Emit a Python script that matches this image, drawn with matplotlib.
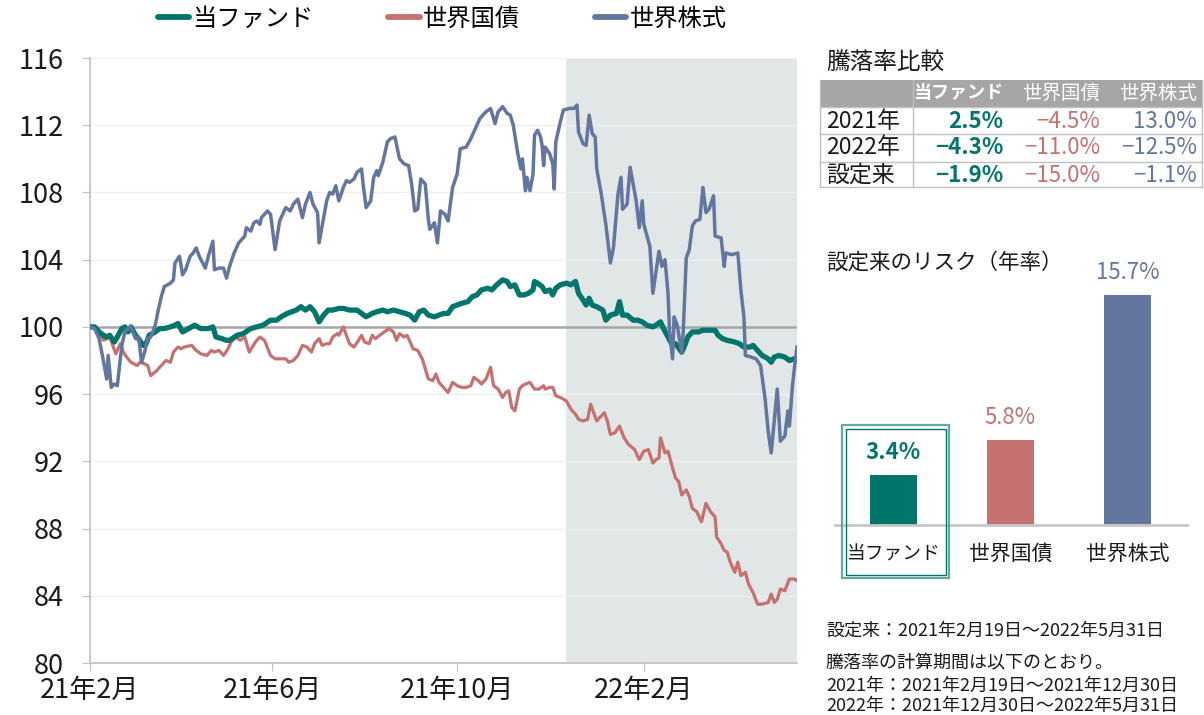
import numpy as np
import pandas as pd
import matplotlib
matplotlib.use("Agg")
import matplotlib.pyplot as plt
from matplotlib.lines import Line2D
from matplotlib.patches import Rectangle

plt.rcParams['font.family'] = ['Noto Sans CJK JP', 'DejaVu Sans']

START = pd.Timestamp("2021-02-19")
END = pd.Timestamp("2022-05-31")
SHADE_FROM = pd.Timestamp("2021-12-30")

# (days since START, index value with START = 100)
fund = [(0, 100.0), (3, 100.0), (6, 99.7), (9, 99.5), (11, 99.4), (13, 99.5), (16, 99.1), (18, 99.4), (21, 99.9),
        (23, 100.0), (25, 99.7), (27, 100.0), (30, 99.5), (32, 99.3), (35, 98.9), (37, 99.0), (39, 99.5), (43, 99.7),
        (46, 99.9), (49, 99.9), (53, 100.0), (56, 100.1), (58, 100.2), (61, 99.7), (65, 99.9), (69, 100.1), (73, 99.9),
        (78, 99.9), (81, 100.0), (83, 99.4), (87, 99.3), (90, 99.2),
        (92, 99.2), (97, 99.5), (101, 99.6), (106, 99.9), (110, 100.0), (114, 100.1), (119, 100.4), (123, 100.4),
        (126, 100.6), (130, 100.8), (133, 100.9), (136, 101.0), (139, 101.2), (142, 101.0), (145, 101.2), (148, 100.9),
        (151, 100.3), (154, 100.7), (157, 101.0), (160, 101.0), (164, 101.1), (167, 101.1), (171, 101.0), (176, 101.0),
        (179, 100.8), (182, 100.6), (186, 100.8),
        (189, 100.9), (193, 101.0), (196, 100.9), (200, 101.0), (204, 100.9), (208, 100.8), (211, 100.7), (214, 100.4),
        (217, 100.9), (220, 101.0), (223, 100.7), (227, 100.6), (230, 100.7), (233, 100.8), (236, 100.8), (239, 101.2),
        (242, 101.3), (245, 101.4), (249, 101.5), (252, 101.8), (255, 101.9), (258, 102.2), (262, 102.3), (265, 102.2),
        (268, 102.5), (272, 102.8), (275, 102.7), (277, 102.4),
        (280, 102.5), (283, 101.9), (286, 101.9), (289, 102.0), (292, 102.2), (293, 102.7), (295, 102.6), (298, 102.4),
        (300, 102.1), (303, 102.2), (305, 101.9), (307, 102.3), (310, 102.5), (314, 102.6), (317, 102.5), (320, 102.7),
        (322, 102.0), (325, 101.6), (327, 101.3), (329, 101.7), (331, 101.3), (334, 101.2), (338, 101.0), (340, 100.4),
        (343, 100.7), (347, 100.8), (349, 101.5), (351, 100.7), (354, 100.7), (358, 100.4), (361, 100.4), (364, 100.3),
        (367, 100.1), (371, 100.0),
        (373, 100.1), (376, 100.3), (378, 99.9), (381, 99.4), (384, 98.9), (386, 99.0), (390, 98.5), (392, 98.9),
        (394, 99.4), (397, 99.7), (401, 99.7), (404, 99.8), (408, 99.8), (412, 99.8), (414, 99.5), (417, 99.3),
        (420, 99.2), (425, 99.1), (428, 99.0), (431, 98.8), (435, 98.8), (437, 98.9), (440, 98.6), (443, 98.3),
        (447, 98.1), (449, 97.9), (451, 98.2), (454, 98.3), (458, 98.2), (461, 98.0), (464, 98.1), (466, 98.1)]

bonds = [(0, 100.0), (4, 100.0), (6, 99.6), (9, 99.2), (11, 99.3), (13, 99.4), (15, 98.9), (17, 98.4), (20, 99.0),
         (22, 98.5), (25, 98.1), (27, 97.9), (31, 97.7), (33, 97.9), (36, 97.8), (38, 97.7), (40, 97.1), (44, 97.4),
         (47, 97.7), (50, 98.0), (53, 97.9), (55, 98.5), (58, 98.8), (60, 98.7), (62, 98.8), (67, 98.9), (70, 98.6),
         (73, 98.4), (77, 98.3), (80, 98.6), (82, 98.5), (85, 98.6), (88, 98.3), (91, 98.7),
         (93, 99.1), (96, 99.4), (99, 99.2), (102, 99.4), (105, 98.5), (109, 99.1), (112, 99.4), (115, 99.2),
         (119, 98.3), (122, 98.1), (125, 98.1), (129, 98.1), (131, 97.9), (134, 98.0), (137, 98.3), (140, 98.9),
         (143, 98.8), (146, 98.5), (148, 99.0), (151, 99.3), (153, 98.9), (156, 99.0), (158, 99.0), (160, 99.4),
         (163, 99.6), (164, 99.5), (167, 100.0), (169, 99.5), (171, 99.0), (174, 98.8), (177, 99.2), (179, 99.5),
         (181, 99.1), (184, 99.0),
         (186, 99.5), (188, 99.3), (191, 99.5), (194, 99.7), (197, 99.9), (200, 99.7), (202, 99.2), (204, 99.6),
         (207, 99.4), (209, 99.5), (211, 99.1), (213, 98.7), (216, 98.6), (219, 98.1), (221, 97.5), (223, 96.9),
         (226, 96.8), (228, 97.2), (230, 96.7), (233, 96.4), (236, 96.1), (239, 96.7), (242, 96.5), (245, 96.4),
         (248, 96.4), (251, 96.5), (253, 97.0), (256, 96.8), (258, 96.6), (261, 96.9), (264, 97.6), (266, 96.5),
         (269, 96.3), (272, 95.8), (274, 96.1), (276, 96.2), (278, 95.2),
         (280, 95.0), (281, 95.4), (283, 96.3), (285, 96.5), (287, 96.6), (290, 96.7), (293, 96.3), (296, 96.3),
         (299, 96.5), (300, 96.3), (303, 96.4), (305, 96.4), (307, 95.9), (310, 95.8), (314, 95.6), (317, 95.1),
         (320, 94.8), (322, 94.5), (325, 94.4), (328, 94.5), (330, 95.4), (332, 94.9), (334, 94.4), (337, 94.7),
         (339, 94.9), (341, 94.4), (343, 93.6), (346, 93.7), (349, 94.1), (352, 93.4), (355, 93.0), (359, 92.7),
         (362, 92.1), (365, 92.6), (368, 92.7), (371, 91.9),
         (373, 92.1), (375, 92.2), (376, 93.4), (379, 92.5), (381, 92.6), (384, 91.6), (386, 91.0), (388, 90.8),
         (390, 90.0), (393, 90.3), (395, 89.9), (397, 89.2), (400, 89.0), (403, 88.4), (406, 89.5), (409, 89.0),
         (412, 88.7), (413, 87.5), (416, 87.1), (418, 86.7), (420, 86.6), (422, 86.0), (425, 85.4), (427, 86.0),
         (429, 85.2), (432, 85.4), (434, 84.7), (437, 84.2), (440, 83.5), (443, 83.5), (447, 83.6), (449, 84.1),
         (451, 83.6), (453, 83.8), (455, 84.4), (458, 84.3), (461, 85.0), (464, 85.0), (466, 84.9)]

stocks = [(0, 100.0), (3, 99.9), (6, 99.3), (9, 97.9), (11, 96.9), (12, 98.3), (14, 96.4), (16, 96.6), (18, 96.5),
          (21, 98.9), (23, 99.7), (25, 99.9), (27, 100.0), (30, 99.3), (32, 99.4), (34, 97.9), (36, 98.5), (38, 99.3),
          (40, 99.4), (43, 100.1), (45, 101.0), (47, 101.8), (49, 102.4), (53, 102.6), (55, 102.8), (56, 103.8),
          (59, 104.2), (61, 103.1), (63, 103.4), (66, 104.2), (68, 104.4), (70, 104.7), (72, 104.2), (76, 103.5),
          (78, 104.2), (81, 105.1), (82, 103.4), (85, 103.5), (88, 103.5), (90, 102.9),
          (92, 103.6), (95, 104.4), (98, 105.0), (102, 105.4), (103, 105.9), (106, 105.7), (108, 106.2), (110, 106.3),
          (112, 106.1), (113, 106.5), (117, 106.9), (119, 106.7), (122, 104.6), (125, 106.3), (129, 107.1),
          (132, 106.9), (134, 107.3), (137, 107.6), (140, 106.5), (142, 107.3), (145, 108.0), (147, 107.3),
          (150, 106.8), (151, 105.0), (154, 106.5), (156, 107.5), (158, 108.0), (160, 107.9), (162, 108.4),
          (164, 107.5), (167, 108.3), (169, 108.7), (171, 108.6), (174, 108.8), (176, 109.2), (179, 109.4),
          (180, 108.5), (182, 107.1), (185, 107.5),
          (187, 108.9), (189, 109.3), (190, 109.0), (193, 109.8), (196, 111.0), (198, 111.2), (201, 111.3),
          (204, 110.0), (207, 109.7), (210, 109.6), (212, 108.5), (214, 106.9), (216, 107.0), (218, 108.8),
          (221, 108.5), (223, 106.4), (224, 105.8), (227, 106.2), (229, 105.0), (231, 106.9), (234, 106.7),
          (236, 106.3), (239, 108.3), (242, 109.1), (244, 110.6), (248, 110.7), (251, 111.2), (254, 111.8),
          (257, 112.4), (261, 112.8), (264, 113.0), (267, 112.1), (269, 112.8), (272, 113.1), (275, 112.7),
          (277, 112.6),
          (279, 112.0), (282, 110.3), (284, 109.4), (285, 110.0), (287, 108.1), (288, 108.9), (290, 108.1),
          (292, 109.1), (293, 111.4), (295, 111.7), (297, 111.3), (298, 110.8), (299, 109.6), (300, 110.7),
          (303, 110.3), (305, 109.7), (306, 108.2), (307, 111.0), (310, 112.2), (312, 112.9), (316, 113.0),
          (319, 113.0), (321, 113.2), (322, 111.6), (325, 110.9), (327, 110.8), (329, 112.6), (331, 111.5),
          (333, 111.3), (334, 109.4), (337, 107.9), (340, 106.1), (343, 103.8), (345, 104.7), (348, 107.9),
          (350, 108.9), (351, 107.0), (354, 107.3), (356, 109.5), (360, 107.5), (362, 105.9), (364, 107.5),
          (365, 106.1), (369, 104.8), (371, 102.0),
          (375, 104.5), (377, 103.6), (379, 104.0), (381, 102.0), (382, 99.7), (384, 98.1), (385, 100.6),
          (387, 100.1), (390, 98.5), (391, 99.7), (393, 104.1), (395, 104.6), (397, 106.0), (399, 106.3),
          (402, 106.4), (404, 108.3), (406, 106.8), (408, 107.0), (411, 107.8), (412, 105.4), (416, 105.3),
          (418, 103.6), (419, 104.4), (423, 104.3), (427, 104.4), (429, 102.2), (431, 100.6), (432, 98.3),
          (436, 98.2), (439, 98.1), (442, 97.7), (445, 95.7), (447, 93.8), (449, 92.5), (451, 94.4), (453, 96.3),
          (455, 93.2), (458, 93.5), (460, 95.0), (461, 94.1), (463, 96.5), (465, 98.1), (466, 98.8)]

names = ["当ファンド", "世界国債", "世界株式"]
colors = ["#00756c", "#c47170", "#62769f"]
widths = [3.8, 2.3, 2.5]
xtick_dates = ["2021-02-19", "2021-06-19", "2021-10-19", "2022-02-19"]
xtick_labels = ["21年2月", "21年6月", "21年10月", "22年2月"]

table_rows = ["2021年", "2022年", "設定来"]
ret_fund = ["2.5%", "−4.3%", "−1.9%"]
ret_bonds = ["−4.5%", "−11.0%", "−15.0%"]
ret_stocks = ["13.0%", "−12.5%", "−1.1%"]

risk = [3.4, 5.8, 15.7]

notes = ["設定来：2021年2月19日～2022年5月31日",
         "騰落率の計算期間は以下のとおり。",
         "2021年：2021年2月19日～2021年12月30日",
         "2022年：2021年12月30日～2022年5月31日"]

W, H = 1204, 715
fx = lambda px: px / W
fy = lambda py: 1 - py / H
TXT = "#1a1a1a"
GRID = "#bfbfbf"

fig = plt.figure(figsize=(W / 100, H / 100), dpi=100)

# ---- main line chart ----------------------------------------------------------------------------
ax = fig.add_axes([fx(90), fy(663), fx(797) - fx(90), (663 - 58) / H])
ax.axvspan(SHADE_FROM, END, color="#e1e7e7", lw=0, zorder=0)
for yv in np.arange(80, 117, 4):
    ax.axhline(yv, color="#efefef", lw=1.0, zorder=1)
ax.axhline(100, color="#a6a6a6", lw=1.8, zorder=2)
for ser, c, lw, z in [(bonds, colors[1], widths[1], 3), (fund, colors[0], widths[0], 4), (stocks, colors[2], widths[2], 5)]:
    d, v = zip(*ser)
    ax.plot(START + pd.to_timedelta(d, unit="D"), v, color=c, lw=lw, zorder=z, solid_joinstyle="round")
ax.set_xlim(START, END)
ax.set_ylim(80, 116)
ax.set_yticks(np.arange(80, 117, 4))
ax.set_xticks(pd.to_datetime(xtick_dates))
ax.set_xticklabels(xtick_labels)
for s in ["top", "right"]:
    ax.spines[s].set_visible(False)
for s in ["left", "bottom"]:
    ax.spines[s].set_color(GRID)
    ax.spines[s].set_linewidth(1.2)
ax.tick_params(axis="y", colors=GRID, labelcolor=TXT, labelsize=19.5, length=6, pad=13)
ax.tick_params(axis="x", colors=GRID, labelcolor=TXT, labelsize=19.5, length=6, pad=4)

handles = [Line2D([], [], color=c, lw=4.2, solid_capstyle="round") for c in colors]
fig.legend(handles, names, loc="center", bbox_to_anchor=(fx(442), fy(19)), ncol=3, frameon=False,
           fontsize=17.5, handlelength=1.28, handletextpad=0.13, columnspacing=3.1)

# ---- return table -------------------------------------------------------------------------------
fig.text(fx(826), fy(62), "騰落率比較", fontsize=17, color=TXT, va="center", ha="left")
fig.add_artist(Rectangle((fx(820), fy(106.5)), fx(1202) - fx(820), (106.5 - 79.5) / H,
                         transform=fig.transFigure, color="#a6a6a6", lw=0))
for yl in [106.5, 134, 161.5, 187]:
    fig.add_artist(Line2D([fx(820), fx(1202)], [fy(yl), fy(yl)], transform=fig.transFigure, color=GRID, lw=1))
for xl in [820, 913, 1202]:
    fig.add_artist(Line2D([fx(xl), fx(xl)], [fy(79.5), fy(187)], transform=fig.transFigure, color=GRID, lw=1))
col_x = [1003, 1100, 1197]
fig.text(fx(col_x[0]), fy(93), names[0], fontsize=13, color="white", weight="bold", ha="right", va="center")
fig.text(fx(col_x[1]), fy(93), names[1], fontsize=14, color="white", ha="right", va="center")
fig.text(fx(col_x[2]), fy(93), names[2], fontsize=14, color="white", ha="right", va="center")
row_y = [121, 148, 175]
for i, lab in enumerate(table_rows):
    fig.text(fx(826), fy(row_y[i]), lab, fontsize=16.5, color=TXT, ha="left", va="center")
    fig.text(fx(col_x[0]), fy(row_y[i]), ret_fund[i], fontsize=16, color=colors[0], weight="bold",
             ha="right", va="center")
    fig.text(fx(col_x[1]), fy(row_y[i]), ret_bonds[i], fontsize=16, color=colors[1], ha="right", va="center")
    fig.text(fx(col_x[2]), fy(row_y[i]), ret_stocks[i], fontsize=16, color=colors[2], ha="right", va="center")

# ---- risk bars ----------------------------------------------------------------------------------
fig.text(fx(826), fy(263), "設定来のリスク（年率）", fontsize=15.5, color=TXT, va="center", ha="left")
bx = fig.add_axes([fx(835), fy(525), fx(1187) - fx(835), (525 - 276) / H])
bx.bar(range(3), risk, width=0.4, color=colors, zorder=2)
bx.set_xlim(-0.5, 2.51)
bx.set_ylim(0, 17)
for s in ["top", "right", "left"]:
    bx.spines[s].set_visible(False)
bx.spines["bottom"].set_color("#c8c8c8")
bx.spines["bottom"].set_linewidth(2)
bx.set_yticks([])
bx.set_xticks(range(3))
bx.set_xticklabels(names, color=TXT)
for lbl, fs in zip(bx.get_xticklabels(), [13.5, 15, 15]):
    lbl.set_fontsize(fs)
bx.tick_params(axis="x", length=0, pad=13)
for i, v in enumerate(risk):
    bx.text(i, v + 1.55, f"{v:.1f}%", ha="center", va="center", fontsize=16, color=colors[i],
            weight="bold" if i == 0 else "normal")
bx.patch.set_alpha(0)
for inset, lw, c in [(0, 1.6, "#62a9a2"), (3.5, 1.0, "#00756c")]:
    fig.add_artist(Rectangle((fx(842 + inset), fy(578 - inset)), (107 - 2 * inset) / W, (153 - 2 * inset) / H,
                             transform=fig.transFigure, fill=False, ec=c, lw=lw))

# ---- notes --------------------------------------------------------------------------------------
for t, yy in zip(notes, [631, 663, 686, 706]):
    fig.text(fx(826), fy(yy), t, fontsize=13, color=TXT, ha="left", va="center")

fig.savefig("out.png", dpi=100)
